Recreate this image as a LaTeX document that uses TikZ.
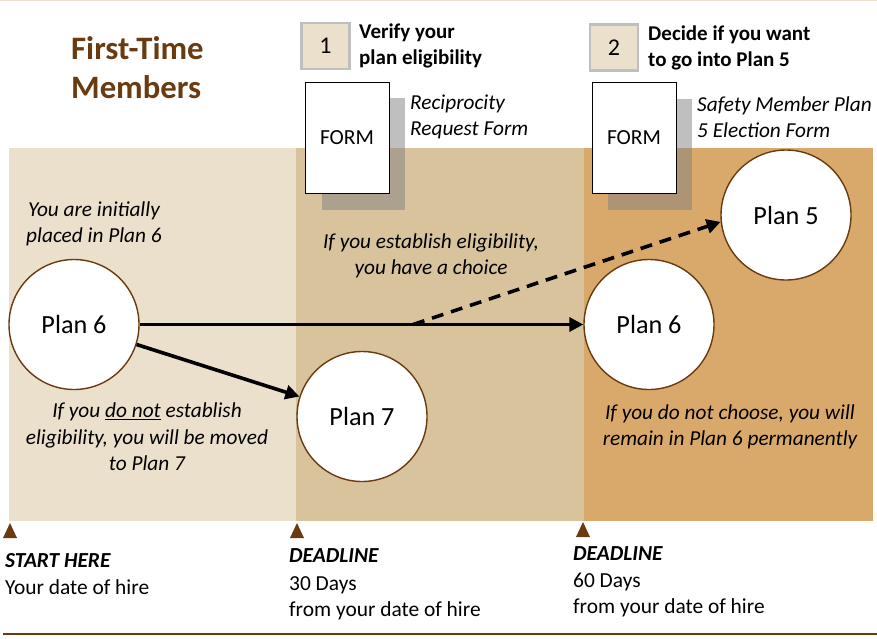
\documentclass[tikz,border=0pt]{standalone}
\usepackage{fontspec}
\setmainfont{Carlito}
\usetikzlibrary{arrows.meta}
\definecolor{bandA}{HTML}{EBE0CC}
\definecolor{bandB}{HTML}{D8C39D}
\definecolor{bandC}{HTML}{D9A96B}
\definecolor{brownc}{HTML}{6A3A10}
\definecolor{numborder}{HTML}{BFBFBF}
\tikzset{
  plan/.style={circle, minimum size=130pt, inner sep=0pt, fill=white, draw=brownc, line width=1.4pt, font=\fontsize{26.2}{30}\selectfont},
  formbox/.style={rectangle, minimum width=84pt, minimum height=111pt, inner sep=0pt, fill=white, draw=black, line width=1pt, font=\fontsize{21.5}{24}\selectfont},
  formshadow/.style={fill=gray, opacity=0.5},
  numbox/.style={rectangle, minimum width=48pt, minimum height=46pt, inner sep=0pt, fill=bandA, draw=numborder, line width=2.5pt, font=\fontsize{24}{28}\selectfont},
  steptext/.style={anchor=west, align=left, inner sep=0pt, font=\fontsize{21}{26.5}\selectfont\bfseries},
  note/.style={align=center, inner sep=0pt, font=\fontsize{21.3}{26.5}\selectfont\itshape},
  formlabel/.style={anchor=west, align=left, inner sep=0pt, font=\fontsize{21.3}{26}\selectfont\itshape},
  bottomtext/.style={anchor=base west, inner sep=0pt, font=\fontsize{21.4}{27}\selectfont},
  bottomhead/.style={bottomtext, font=\fontsize{21.4}{27}\selectfont\bfseries\itshape},
  arr/.style={line width=3.6pt, -{Triangle[length=14pt,width=14pt]}},
  marker/.style={fill=brownc}
}
\begin{document}
\begin{tikzpicture}[x=1pt,y=-1pt]
\useasboundingbox (0,0) rectangle (877,638);
% top rule
\draw[color=bandA, line width=1pt] (0,0.5) -- (877,0.5);
% bands
\fill[bandA] (9,148) rectangle (296,521);
\fill[bandB] (296,148) rectangle (584,521);
\fill[bandC] (584,148) rectangle (873,521);
% title
\node[anchor=west, align=left, inner sep=0pt, text=brownc, font=\fontsize{32.7}{39}\selectfont\bfseries] (title) at (71,68) {First-Time\\Members};
% step 1
\node[numbox] (n1) at (325.5,46) {1};
\node[steptext] (s1) at (359,46) {Verify your\\plan eligibility};
% step 2
\node[numbox] (n2) at (614,47.5) {2};
\node[steptext] (s2) at (648,48) {Decide if you want\\to go into Plan 5};
% forms
\fill[formshadow] (322,98) rectangle (405,210);
\node[formbox] (f1) at (347,137.5) {FORM};
\node[formlabel] (l1) at (410,117) {Reciprocity\\Request Form};
\fill[formshadow] (608,99) rectangle (692,210);
\node[formbox] (f2) at (634,137.5) {FORM};
\node[formlabel] (l2) at (697,117) {Safety Member Plan\\5 Election Form};
% notes
\node[note] (t1) at (94,224) {You are initially\\placed in Plan 6};
\node[note] (t2) at (431,256) {If you establish eligibility,\\you have a choice};
\node[note] (t3) at (147,437) {If you \underline{do not} establish\\eligibility, you will be moved\\to Plan 7};
\node[note] (t4) at (730,427) {If you do not choose, you will\\remain in Plan 6 permanently};
% plans
\node[plan] (p6a) at (74,324.5) {Plan 6};
\node[plan] (p7) at (362,416.5) {Plan 7};
\node[plan] (p6b) at (649,324.5) {Plan 6};
\node[plan] (p5) at (786,215) {Plan 5};
% connectors
\coordinate (split) at (413,324.5);
\draw[arr] (p6a.east) -- (p6b.west);
\draw[arr] (p6a) -- (p7);
\draw[arr, dash pattern=on 12pt off 8pt] (split) -- (p5.186);
% timeline markers
\fill[marker] (3,538) -- (17,538) -- (10,523) -- cycle;
\fill[marker] (290,538) -- (304,538) -- (297,523) -- cycle;
\fill[marker] (576,537) -- (590,537) -- (583,522) -- cycle;
% bottom texts
\node[bottomhead] (b1) at (5,567) {START HERE};
\node[bottomtext] (b2) at (5,594) {Your date of hire};
\node[bottomhead] (c1) at (289,562) {DEADLINE};
\node[bottomtext] (c2) at (289,590) {30 Days};
\node[bottomtext] (c3) at (289,616) {from your date of hire};
\node[bottomhead] (d1) at (573,560) {DEADLINE};
\node[bottomtext] (d2) at (573,587) {60 Days};
\node[bottomtext] (d3) at (573,613) {from your date of hire};
% bottom rule
\draw[brownc, line width=2pt] (3,634) -- (877,634);
\end{tikzpicture}
\end{document}
